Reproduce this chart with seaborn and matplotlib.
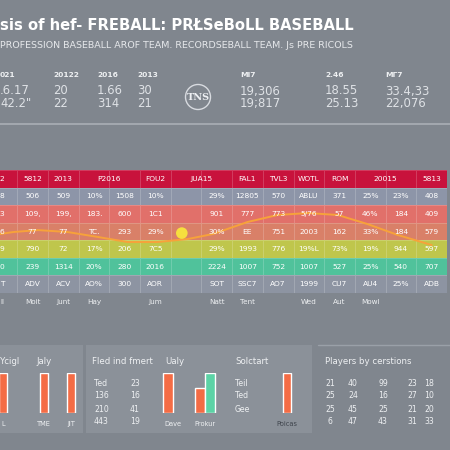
import numpy as np
import pandas as pd
import matplotlib
matplotlib.use("Agg")
import matplotlib.pyplot as plt
from matplotlib.colors import ListedColormap
from matplotlib.patches import Rectangle, Circle
import seaborn as sns

# ---- text / data ----
title = "sis of hef- FREBALL: PRŁSeBoLL BASEBALL"
subtitle = "PROFESSION BASEBALL AROF TEAM. RECORDSEBALL TEAM. Js PRE RICOLS"

stat_headers = ["021", "20122", "2016", "2013", "MI7", "2.46", "MΓ7"]
stat_row1 = [".6.17", "20", "1.66", "30", "19,306", "18.55", "33.4,33"]
stat_row2 = ["42.2\"", "22", "314", "21", "19;817", "25.13", "22,076"]

# table header ("" = merged with the label before it)
table_header = ["2", "5812", "2013", "P2016", "", "FOU2", "JUA15", "",
                "FAL1", "TVL3", "WOTL", "ROM", "20015", "", "5813"]
table_rows = [
    ["8", "506", "509", "10%", "1508", "10%", "", "29%", "12805", "570", "ABLU", "371", "25%", "23%", "408"],
    ["3", "109,", "199,", "183.", "600", "1C1", "", "901", "777", "773", "5/76", "57", "46%", "184", "409"],
    ["6", "77", "77", "TC.", "293", "29%", "", "30%", "EE", "751", "2003", "162", "33%", "184", "579"],
    ["9", "790", "72", "17%", "206", "7C5", "", "29%", "1993", "776", "19%L", "73%", "19%", "944", "597"],
    ["0", "239", "1314", "20%", "280", "2016", "", "2224", "1007", "752", "1007", "527", "25%", "540", "707"],
    ["T", "ADV", "ACV", "AO%", "300", "AOR", "", "SOT", "SSC7", "AO7", "1999", "CU7", "AU4", "25%", "ADB"],
]
month_labels = ["ll", "Moit", "Junt", "Hay", "", "Jum", "", "Natt", "Tent",
                "", "Wed", "Aut", "Mowl", "", ""]

# trend curve over the table (column units, row units)
curve_x = [0.0, 0.87, 1.68, 2.64, 3.62, 4.6, 5.57, 6.55, 7.38, 8.5, 9.48, 10.46, 11.44, 12.4, 13.4, 14.5]
curve_y = [3.76, 3.53, 3.42, 3.53, 3.81, 4.1, 4.1, 3.93, 3.64, 2.96, 2.56, 2.45, 2.56, 3.07, 3.7, 4.27]
dot_x = [6.36]
dot_y = [3.59]

# bottom mini bar charts
bars_a_labels = ["L", "TME", "JIT"]
bars_a_values = [40, 40, 40]
bars_b_labels = ["Dave", "Prokur", "Prokur"]
bars_b_series = ["a", "a", "b"]
bars_b_values = [40, 25, 40]
bars_c_labels = ["Poicas"]
bars_c_values = [40]

list_b_left = ["Ted", "136", "210", "443"]
list_b_right = ["23", "16", "41", "19"]
list_c = ["Teil", "Ted", "Gee"]
players_grid = [
    ["21", "40", "99", "23", "18"],
    ["25", "24", "16", "27", "10"],
    ["25", "45", "25", "21", "20"],
    ["6", "47", "43", "31", "33"],
]

# ---- styling ----
BG = "#80868e"
PANEL = "#8b9199"
ORANGE = "#f46c45"
TEAL = "#5cd3a6"
LIGHT = "#eef0f2"
row_colors = ["#c8123c", "#8d95a8", "#e1706a", "#d98068", "#bfc64c", "#50c29b", "#8d94a2"]

sns.set_theme(style="white")
plt.rcParams["font.family"] = ["DejaVu Sans"]

W = 450.0
fig = plt.figure(figsize=(4.5, 4.5), dpi=100, facecolor=BG)


def fx(x):
    return x / W


def fy(y):
    return 1 - y / W


def box(l, t, r, b):
    return [fx(l), fy(b), (r - l) / W, (b - t) / W]


# title block
fig.text(fx(0), fy(25), title, color="white", fontsize=10.6, fontweight="bold", va="center", ha="left")
fig.text(fx(0), fy(45), subtitle, color="#e6e8eb", fontsize=6.8, va="center", ha="left")

stat_x = [0, 53, 97, 137, 240, 325, 385]
for i, x in enumerate(stat_x):
    fig.text(fx(x), fy(75), stat_headers[i], color=LIGHT, fontsize=5.4, fontweight="bold", va="center")
    fig.text(fx(x), fy(91), stat_row1[i], color="#dfe2e6", fontsize=8.4, va="center")
    fig.text(fx(x), fy(104), stat_row2[i], color="#dfe2e6", fontsize=8.4, va="center")

# emblem
fig.add_artist(Circle((fx(198), fy(97)), 12.5 / W, transform=fig.transFigure,
                      facecolor="none", edgecolor="#d8dbe0", lw=1.0))
fig.text(fx(198), fy(98), "TNS", color="#eef0f3", fontsize=7, fontweight="bold",
         family="serif", ha="center", va="center")
fig.add_artist(plt.Line2D([0, 1], [fy(124), fy(124)], transform=fig.transFigure,
                          color="#a9aeb5", lw=1.2))

# ---- main table as heatmap ----
n_rows = len(table_rows) + 1
n_cols = len(table_header)
codes = np.repeat(np.arange(n_rows)[:, None], n_cols, axis=1)
annot = np.array([[""] * n_cols] + table_rows, dtype=object)

ax = fig.add_axes(box(-13.4, 170, 447, 293))
sns.heatmap(codes, cmap=ListedColormap(row_colors), annot=annot, fmt="", cbar=False,
            linewidths=0.5, linecolor=(1, 1, 1, 0.18), ax=ax,
            annot_kws={"color": "white", "fontsize": 5.4})
for j, lab in enumerate(table_header):
    if not lab:
        continue
    span = 2 if j + 1 < n_cols and table_header[j + 1] == "" else 1
    ax.text(j + span / 2, 0.5, lab, color="white", fontsize=5.4, ha="center", va="center")

sns.lineplot(x=curve_x, y=curve_y, ax=ax, color="#f7a23a", lw=1.4, sort=True)
sns.scatterplot(x=dot_x, y=dot_y, ax=ax, s=70, color="#f6df3e", edgecolor="none", zorder=5)
ax.set_xlim(0, n_cols)
ax.set_ylim(n_rows, 0)
ax.set_xticks(np.arange(n_cols) + 0.5)
ax.set_xticklabels(month_labels, color=LIGHT, fontsize=5.2)
ax.tick_params(axis="x", length=0, pad=4)
ax.set_yticks([])
ax.set_xlabel("")
ax.set_ylabel("")

# ---- bottom panels ----
for l, r in [(0, 83), (86, 312), (318, 450)]:
    fig.add_artist(Rectangle((fx(l), fy(433)), (r - l) / W, 88 / W, transform=fig.transFigure,
                             facecolor=PANEL if r < 400 else BG, edgecolor="none", zorder=0))
fig.add_artist(plt.Line2D([fx(318), 1], [fy(345), fy(345)], transform=fig.transFigure,
                          color="#9aa0a8", lw=1.0))

fig.text(fx(0), fy(362), "Ycigl", color=LIGHT, fontsize=6.2, va="center")
fig.text(fx(36), fy(362), "Jaly", color=LIGHT, fontsize=6.2, va="center")
fig.text(fx(92), fy(362), "Fled ind fmert", color=LIGHT, fontsize=6.2, va="center")
fig.text(fx(165), fy(362), "Ualy", color=LIGHT, fontsize=6.2, va="center")
fig.text(fx(235), fy(362), "Solctart", color=LIGHT, fontsize=6.2, va="center")
fig.text(fx(325), fy(362), "Players by cerstions", color=LIGHT, fontsize=6.2, va="center")

for i, (a, b) in enumerate(zip(list_b_left, list_b_right)):
    fig.text(fx(94), fy(383 + 13 * i), a, color=LIGHT, fontsize=5.6, va="center")
    fig.text(fx(130), fy(383 + 13 * i), b, color=LIGHT, fontsize=5.6, va="center")
for i, a in enumerate(list_c):
    fig.text(fx(235), fy(383 + 13 * i), a, color=LIGHT, fontsize=5.6, va="center")
grid_x = [330, 353, 383, 412, 429]
for i, row in enumerate(players_grid):
    for j, v in enumerate(row):
        fig.text(fx(grid_x[j]), fy(383 + 13 * i), v, color=LIGHT, fontsize=5.6, va="center", ha="center")


def style_mini(a, label_color=LIGHT):
    a.set_facecolor("none")
    a.set_ylim(0, 40)
    a.set_yticks([])
    a.set_xlabel("")
    a.set_ylabel("")
    a.tick_params(axis="x", length=0, pad=6, labelsize=4.8, labelcolor=label_color)
    sns.despine(ax=a, left=True, bottom=True)


# panel A: uneven spacing via empty slots
ax_a = fig.add_axes(box(-4, 373, 78, 413))
order_a = ["L", " ", "  ", "TME", "   ", "JIT"]
sns.barplot(x=bars_a_labels, y=bars_a_values, order=order_a, color=ORANGE,
            width=0.57, saturation=1, ax=ax_a)
style_mini(ax_a)

# panel B
ax_b = fig.add_axes(box(157, 373, 221, 413))
df_b = pd.DataFrame({"label": bars_b_labels, "series": bars_b_series, "value": bars_b_values})
sns.barplot(data=df_b, x="label", y="value", hue="series", order=["Dave", "Prokur"],
            hue_order=["a", "b"], palette={"a": ORANGE, "b": TEAL}, width=0.6,
            saturation=1, legend=False, ax=ax_b)
style_mini(ax_b)

# panel C
ax_c = fig.add_axes(box(275, 373, 299, 413))
sns.barplot(x=bars_c_labels, y=bars_c_values, color=ORANGE, width=0.36, saturation=1, ax=ax_c)
style_mini(ax_c, label_color="#3f444c")

fig.savefig("out.png", dpi=100, facecolor=BG)
